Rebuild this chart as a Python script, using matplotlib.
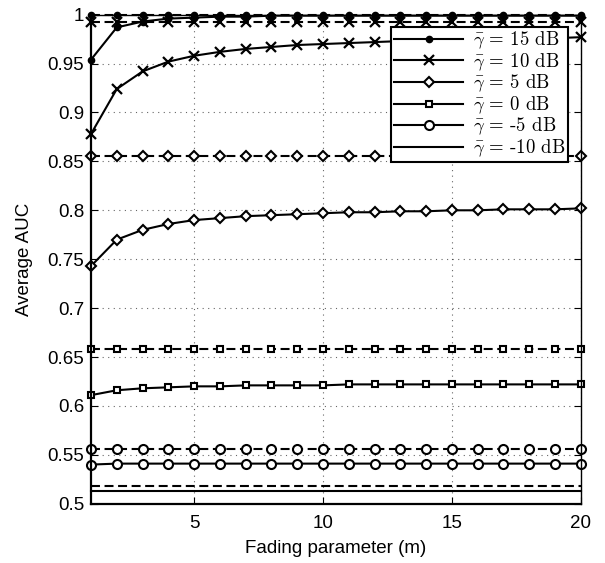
import matplotlib
matplotlib.use("Agg")
import matplotlib.pyplot as plt
import numpy as np

m = list(range(1, 21))

# solid curves (vs fading parameter m)
auc15_solid = [0.954, 0.987, 0.993, 0.996, 0.997, 0.998, 0.998, 0.999, 0.999, 0.999,
               0.999, 0.999, 0.999, 0.999, 0.999, 0.999, 0.999, 0.999, 0.999, 0.999]
auc10_solid = [0.878, 0.924, 0.942, 0.952, 0.958, 0.962, 0.965, 0.967, 0.969, 0.970,
               0.971, 0.972, 0.973, 0.974, 0.974, 0.975, 0.975, 0.976, 0.976, 0.977]
auc5_solid = [0.743, 0.770, 0.780, 0.786, 0.790, 0.792, 0.794, 0.795, 0.796, 0.797,
              0.798, 0.798, 0.799, 0.799, 0.800, 0.800, 0.801, 0.801, 0.801, 0.802]
auc0_solid = [0.611, 0.616, 0.618, 0.619, 0.620, 0.620, 0.621, 0.621, 0.621, 0.621,
              0.622, 0.622, 0.622, 0.622, 0.622, 0.622, 0.622, 0.622, 0.622, 0.622]
aucm5_solid = [0.540, 0.541, 0.541, 0.541, 0.541, 0.541, 0.541, 0.541, 0.541, 0.541,
               0.541, 0.541, 0.541, 0.541, 0.541, 0.541, 0.541, 0.541, 0.541, 0.541]
aucm10_solid = [0.513] * 20

# dashed reference levels
auc15_dashed = [1.000] * 20
auc10_dashed = [0.993] * 20
auc5_dashed = [0.856] * 20
auc0_dashed = [0.658] * 20
aucm5_dashed = [0.556] * 20
aucm10_dashed = [0.518] * 20

labels = [r'$\bar{\gamma}$ = 15 dB', r'$\bar{\gamma}$ = 10 dB', r'$\bar{\gamma}$ = 5 dB',
          r'$\bar{\gamma}$ = 0 dB', r'$\bar{\gamma}$ = -5 dB', r'$\bar{\gamma}$ = -10 dB']

plt.rcParams['mathtext.fontset'] = 'cm'
plt.rcParams['font.family'] = ['Liberation Sans', 'DejaVu Sans']

fig = plt.figure(figsize=(6.05, 5.63), dpi=100)
ax = fig.add_axes([0.1504, 0.1053, 0.8096, 0.8686])

dash = (0, (4.3, 2.2))
styles = [
    dict(marker='o', ms=4.5, mfc='black'),
    dict(marker='x', ms=6.5, mew=1.6),
    dict(marker='D', ms=5.5, mfc='white', mew=1.5),
    dict(marker='s', ms=5, mfc='white', mew=1.5),
    dict(marker='o', ms=6.5, mfc='white', mew=1.5),
    dict(marker='None'),
]
solids = [auc15_solid, auc10_solid, auc5_solid, auc0_solid, aucm5_solid, aucm10_solid]
dashes = [auc15_dashed, auc10_dashed, auc5_dashed, auc0_dashed, aucm5_dashed, aucm10_dashed]

handles = []
for s, d, st, lab in zip(solids, dashes, styles, labels):
    ax.plot(m, d, color='black', lw=1.5, linestyle=dash, mec='black', clip_on=False, **st)
    h, = ax.plot(m, s, color='black', lw=1.5, linestyle='-', mec='black', clip_on=False, label=lab, **st)
    handles.append(h)

ax.set_xlim(1, 20)
ax.set_ylim(0.5, 1.0)
ax.set_xticks([5, 10, 15, 20])
yt = np.arange(0.5, 1.0001, 0.05)
ax.set_yticks(yt)
ax.set_yticklabels(['0.5', '0.55', '0.6', '0.65', '0.7', '0.75', '0.8', '0.85', '0.9', '0.95', '1'])
ax.tick_params(direction='in', length=5, labelsize=13.5, top=True, right=True, width=0.8)
ax.tick_params(axis='x', pad=8)
ax.tick_params(axis='y', pad=5)
ax.grid(True, linestyle=(0, (1, 4)), color='black', lw=0.8, alpha=0.6)
for sp in ['left', 'bottom']:
    ax.spines[sp].set_linewidth(1.6)
for sp in ['right', 'top']:
    ax.spines[sp].set_linewidth(1.0)

ax.set_xlabel('Fading parameter (m)', fontsize=13.5, labelpad=6)
ax.set_ylabel('Average AUC', fontsize=13.5, labelpad=10)

leg = ax.legend(handles=handles, loc='upper right', bbox_to_anchor=(0.974, 0.975),
                borderaxespad=0, prop={'family': 'cmr10', 'size': 13.5},
                handlelength=3.7, handletextpad=0.5, labelspacing=0.0,
                fancybox=False, framealpha=1, edgecolor='black', borderpad=0.15)
leg.get_frame().set_linewidth(1.5)

fig.savefig('out.png', dpi=100)
